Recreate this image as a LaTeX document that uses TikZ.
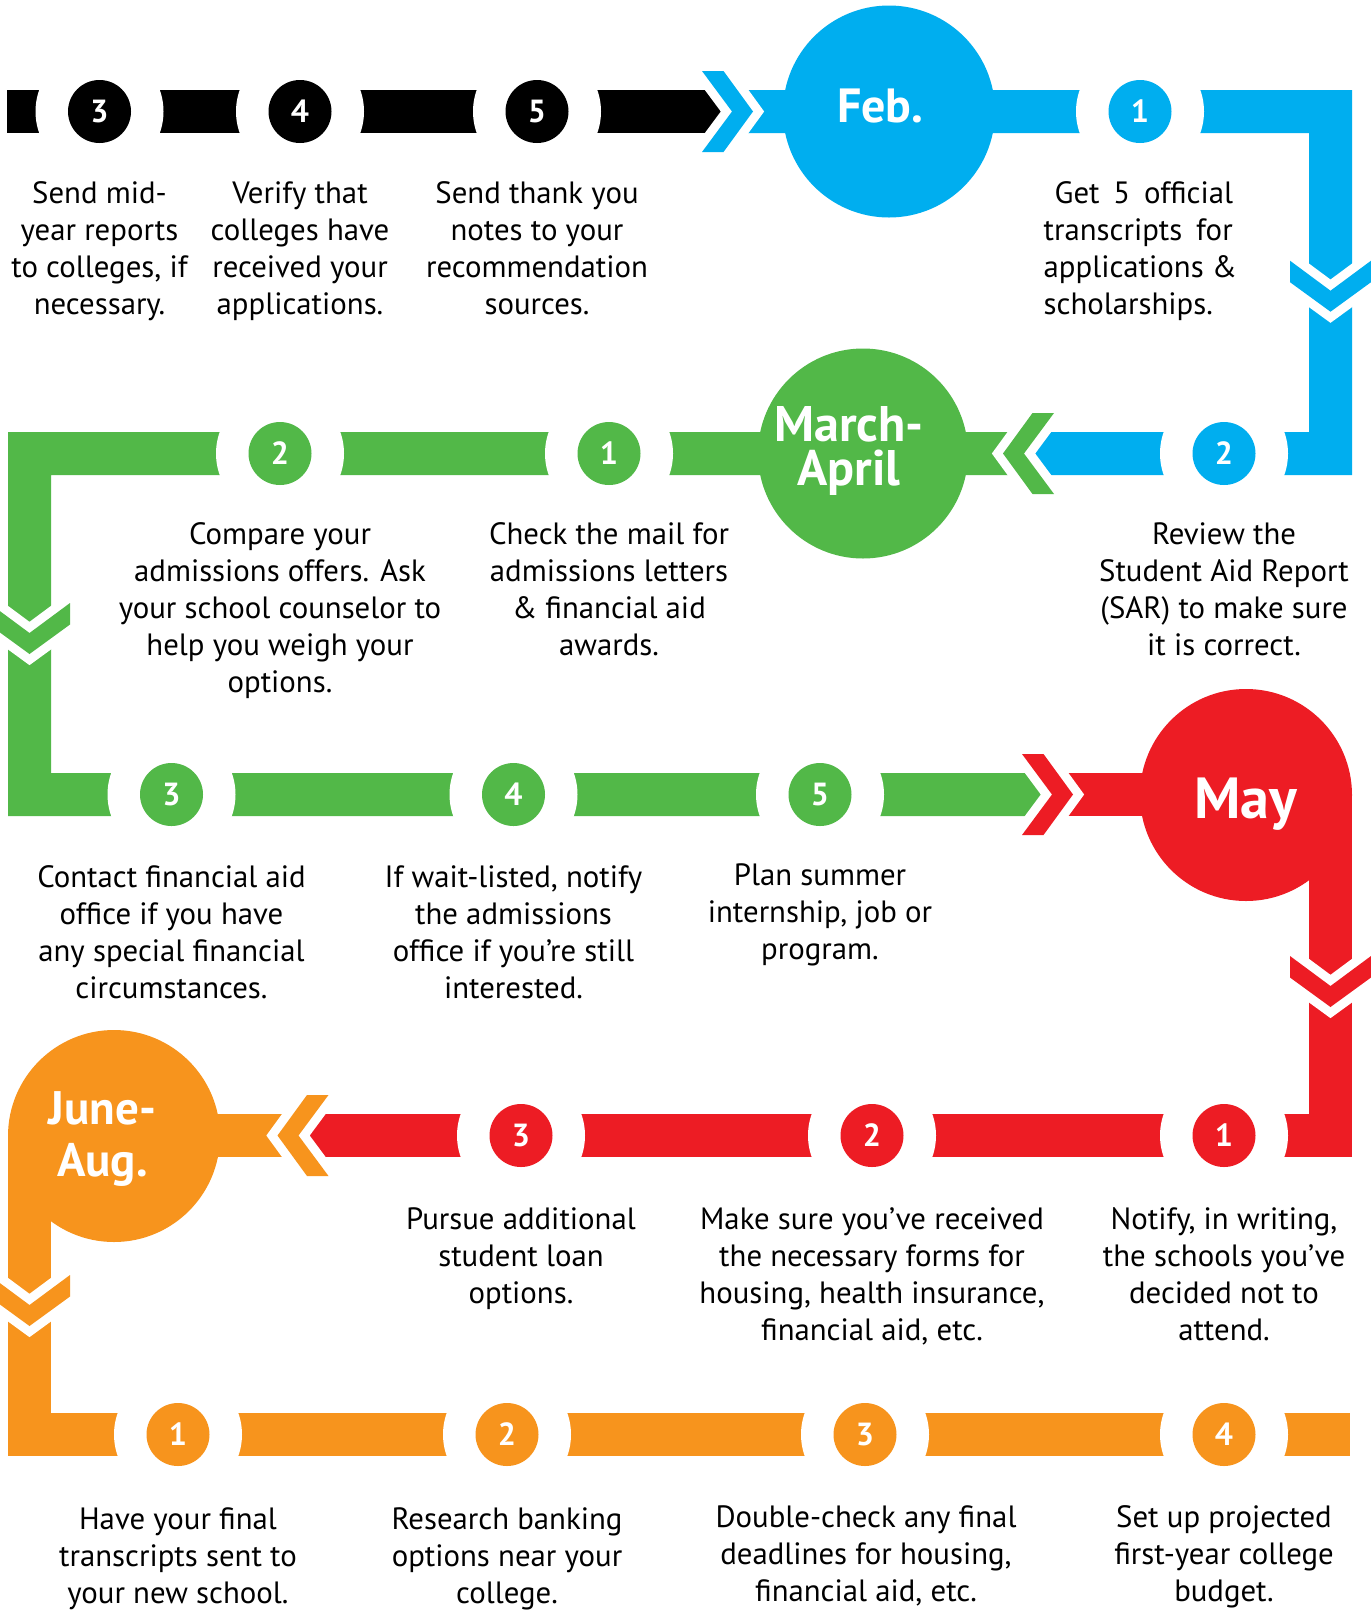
\documentclass[tikz,border=0pt]{standalone}
\usepackage{fontspec}
\setmainfont{PT Sans}
\definecolor{cblue}{HTML}{00AEEF}
\definecolor{cgreen}{HTML}{52B848}
\definecolor{cred}{HTML}{ED1C24}
\definecolor{corange}{HTML}{F7941D}
\newcommand\topstrut{\rule{0pt}{24pt}}
\newcommand\chevron[4]{%
  \begin{scope}[shift={(#1,#2)},rotate=#3]
    \draw[white,line width=18pt,line join=miter] (0,0)--(-30,-40.5)--(-8.5,-40.5)--(21,0)--(-8.5,40.5)--(-30,40.5)--cycle;
    \fill[#4] (0,0)--(-30,-40.5)--(-8.5,-40.5)--(21,0)--(-8.5,40.5)--(-30,40.5)--cycle;
  \end{scope}}
\tikzset{
  bodytxt/.style={font=\fontsize{30.8}{37}\selectfont, align=center, anchor=north, inner sep=0pt, text=black},
  numc/.style={circle, minimum size=63pt, inner sep=0pt, font=\fontsize{32}{32}\selectfont\bfseries, text=white},
  month/.style={inner sep=0pt, text=white, align=center},
  gapc/.style={fill=white}
}
\begin{document}
\begin{tikzpicture}[x=1pt,y=-1pt]
\useasboundingbox[fill=white] (0,0) rectangle (1371,1610);
% bars
\fill[black] (7,90) rectangle (740,133);
\fill[cblue] (735,90) -- (1352,90) -- (1352,475) -- (1020,475) -- (1020,432) -- (1309,432) -- (1309,133) -- (735,133) -- cycle;
\fill[cgreen] (1030,432) -- (8,432) -- (8,816) -- (1060,816) -- (1060,773) -- (51,773) -- (51,475) -- (1030,475) -- cycle;
\fill[cred] (1045,773) rectangle (1246,816);
\fill[cred] (1309,795) rectangle (1352,1157);
\fill[cred] (290,1114) rectangle (1352,1157);
\fill[corange] (114,1114) rectangle (306,1157);
\fill[corange] (8,1136) rectangle (51,1456);
\fill[corange] (8,1413) rectangle (1350,1456);
% month circles
\fill[cblue] (889,111.5) circle (106);
\fill[cgreen] (863,453.5) circle (105);
\fill[cred] (1246,795) circle (106);
\fill[corange] (114,1136) circle (106);
% chevrons
\chevron{732}{111.5}{0}{cblue}
\chevron{1330.5}{290.7}{-90}{cblue}
\chevron{1024}{453.5}{180}{cgreen}
\chevron{29.5}{633}{-90}{cgreen}
\chevron{1052}{794.5}{0}{cred}
\chevron{1330.5}{986}{-90}{cred}
\chevron{298.5}{1135.5}{180}{corange}
\chevron{29.5}{1305}{-90}{corange}
% gaps and number circles
\foreach \x/\y/\c/\n/\nm in {99.5/111.5/black/3/a3, 300/111.5/black/4/a4, 537/111.5/black/5/a5, 1140/111.5/cblue/1/b1,
  1224/453.5/cblue/2/b2, 609/453.5/cgreen/1/c1, 280/453.5/cgreen/2/c2,
  171.5/794.5/cgreen/3/c3, 513.5/794.5/cgreen/4/c4, 820/794.5/cgreen/5/c5,
  1224/1135.5/cred/1/d1, 872/1135.5/cred/2/d2, 521/1135.5/cred/3/d3,
  178/1434.5/corange/1/e1, 507/1434.5/corange/2/e2, 865/1434.5/corange/3/e3, 1224/1434.5/corange/4/e4}{
  \fill[gapc] (\x,\y) circle (64);
  \node[numc, fill=\c] (n\nm) at (\x,\y) {\n};
}
% month labels
\node[month, anchor=base, font=\fontsize{48}{48}\selectfont\bfseries] (feb) at (880,122) {Feb.};
\node[month, anchor=north, font=\fontsize{50}{44}\selectfont\bfseries] (mar) at (849,403) {\rule{0pt}{38pt}March-\\April};
\node[month, anchor=base, font=\fontsize{58}{58}\selectfont\bfseries] (may) at (1246,818) {May};
\node[month, anchor=north, font=\fontsize{47}{52}\selectfont\bfseries] (jun) at (102.5,1088) {\rule{0pt}{36pt}June-\\Aug.};
% texts row 1
\node[bodytxt] (ta3) at (99.5,179) {\topstrut Send mid-\\year reports\\to colleges, if\\necessary.};
\node[bodytxt] (ta4) at (300,179) {\topstrut Verify that\\colleges have\\received your\\applications.};
\node[bodytxt] (ta5) at (537,179) {\topstrut Send thank you\\notes to your\\recommendation\\sources.};
\node[bodytxt, align=left, anchor=north west] (tb1) at (1043.5,179) {\topstrut\hspace*{11pt}Get\hspace{0.45em}5\hspace{0.45em}official\\transcripts\hspace{0.45em}for\\applications \&\\scholarships.};
% row 2
\node[bodytxt] (tb2) at (1224,520) {\topstrut Review the\\Student Aid Report\\(SAR) to make sure\\it is correct.};
\node[bodytxt] (tc1) at (609,520) {\topstrut Check the mail for\\admissions letters\\\& financial aid\\awards.};
\node[bodytxt] (tc2) at (280,520) {\topstrut Compare your\\admissions offers. Ask\\your school counselor to\\help you weigh your\\options.};
% row 3
\node[bodytxt] (tc3) at (171.5,863) {\topstrut Contact financial aid\\office if you have\\any special financial\\circumstances.};
\node[bodytxt] (tc4) at (513.5,863) {\topstrut If wait-listed, notify\\the admissions\\office if you’re still\\interested.};
\node[bodytxt] (tc5) at (820,861) {\topstrut Plan summer\\internship, job or\\program.};
% row 4
\node[bodytxt] (td1) at (1224,1205) {\topstrut Notify, in writing,\\the schools you’ve\\decided not to\\attend.};
\node[bodytxt] (td2) at (872,1205) {\topstrut Make sure you’ve received\\the necessary forms for\\housing, health insurance,\\financial aid, etc.};
\node[bodytxt] (td3) at (521,1205) {\topstrut Pursue additional\\student loan\\options.};
% row 5
\node[bodytxt] (te1) at (178,1505) {\topstrut Have your final\\transcripts sent to\\your new school.};
\node[bodytxt] (te2) at (507,1505) {\topstrut Research banking\\options near your\\college.};
\node[bodytxt] (te3) at (866,1503) {\topstrut Double-check any final\\deadlines for housing,\\financial aid, etc.};
\node[bodytxt] (te4) at (1224,1503) {\topstrut Set up projected\\first-year college\\budget.};
\end{tikzpicture}
\end{document}
